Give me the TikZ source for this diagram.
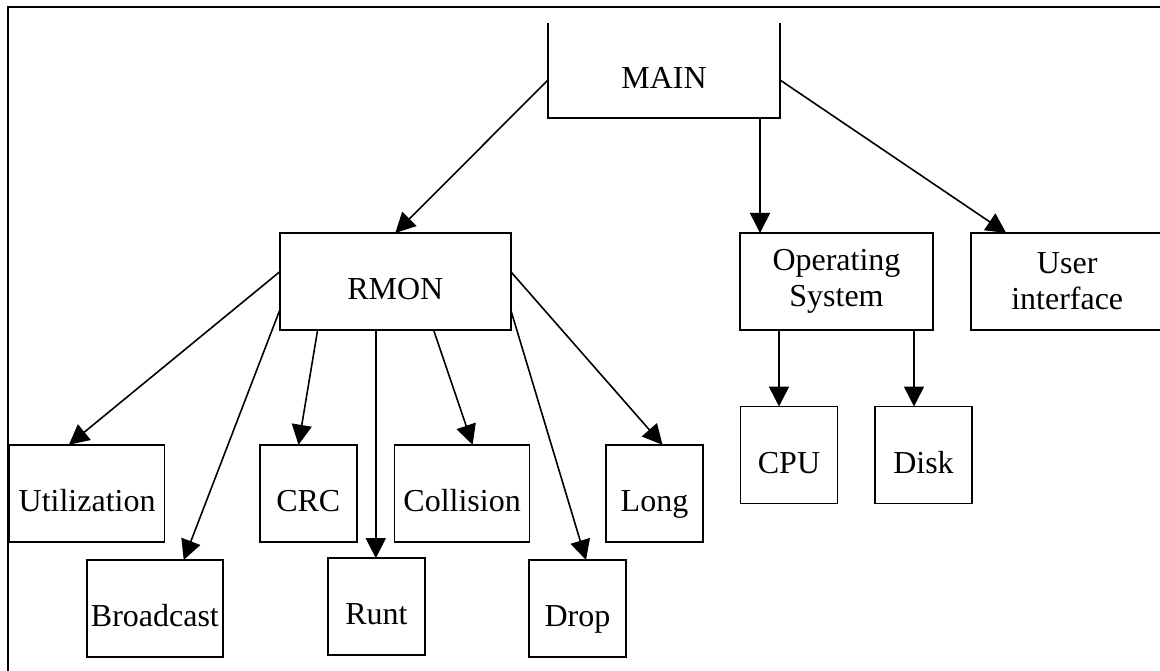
\documentclass[tikz,border=0pt]{standalone}
\usepackage{fontspec}
\setmainfont{Liberation Serif}
\usetikzlibrary{arrows.meta}
\tikzset{
  box/.style={draw,line width=1.6pt,inner sep=0pt,outer sep=0pt,minimum width=97pt,minimum height=97pt,
    font=\fontsize{32}{36}\selectfont,text height=40pt,text depth=4pt},
  twoline/.style={box,align=center,text height=,text depth=},
  arr/.style={line width=1.6pt,-{Triangle[length=20pt,width=20pt]}}
}
\begin{document}
\begin{tikzpicture}[x=1pt,y=-1pt]
\useasboundingbox (0,0) rectangle (1160,671);
\draw[line width=1.8pt] (1175,7) -| (8,685);
\node[box,draw=none,minimum width=232pt,minimum height=95pt] (main) at (664,70.5) {MAIN};
\draw[line width=1.6pt] (main.north west) |- (main.south east) -- (main.north east);
\node[box,minimum width=231pt] (rmon) at (395.3,281.5) {RMON};
\node[twoline,minimum width=193pt] (os) at (836.5,281.5) {Operating\\System};
\node[twoline,minimum width=192pt] (ui) at (1067.2,281.5) {User\\interface};
\node[box,minimum width=155pt] (util) at (87.1,493.3) {Utilization};
\node[box,minimum width=136pt] (bcast) at (154.9,608.5) {Broadcast};
\node[box] (crc) at (308.3,493.3) {CRC};
\node[box] (runt) at (376.5,606.7) {Runt};
\node[box,minimum width=135pt] (coll) at (462.1,493.3) {Collision};
\node[box] (drop) at (577.5,608.5) {Drop};
\node[box] (long) at (654.5,493.3) {Long};
\node[box] (cpu) at (789,455) {CPU};
\node[box] (disk) at (923.5,455) {Disk};
\draw[arr] ([yshift=-9.5pt]main.west) -- (rmon.north);
\draw[arr] ([xshift=96pt]main.south) -- ([xshift=96pt]main.south |- os.north);
\draw[arr] ([yshift=-9.5pt]main.east) -- ([xshift=-61pt]ui.north);
\draw[arr] ([yshift=9.8pt]rmon.west) -- ([xshift=-18.2pt]util.north);
\draw[arr] ([yshift=-28.5pt]rmon.west) -- ([xshift=28.8pt]bcast.north);
\draw[arr] ([xshift=-77.7pt]rmon.south) -- ([xshift=-9.8pt]crc.north);
\draw[arr] ([xshift=-19.5pt]rmon.south) -- ([xshift=-19.5pt]rmon.south |- runt.north);
\draw[arr] ([xshift=38.3pt]rmon.south) -- ([xshift=10.5pt]coll.north);
\draw[arr] ([yshift=-28.5pt]rmon.east) -- ([xshift=8.5pt]drop.north);
\draw[arr] ([yshift=9.8pt]rmon.east) -- ([xshift=8pt]long.north);
\draw[arr] ([xshift=-57.5pt]os.south) -- ([xshift=-57.5pt]os.south |- cpu.north);
\draw[arr] ([xshift=77.5pt]os.south) -- ([xshift=77.5pt]os.south |- disk.north);
\end{tikzpicture}
\end{document}
